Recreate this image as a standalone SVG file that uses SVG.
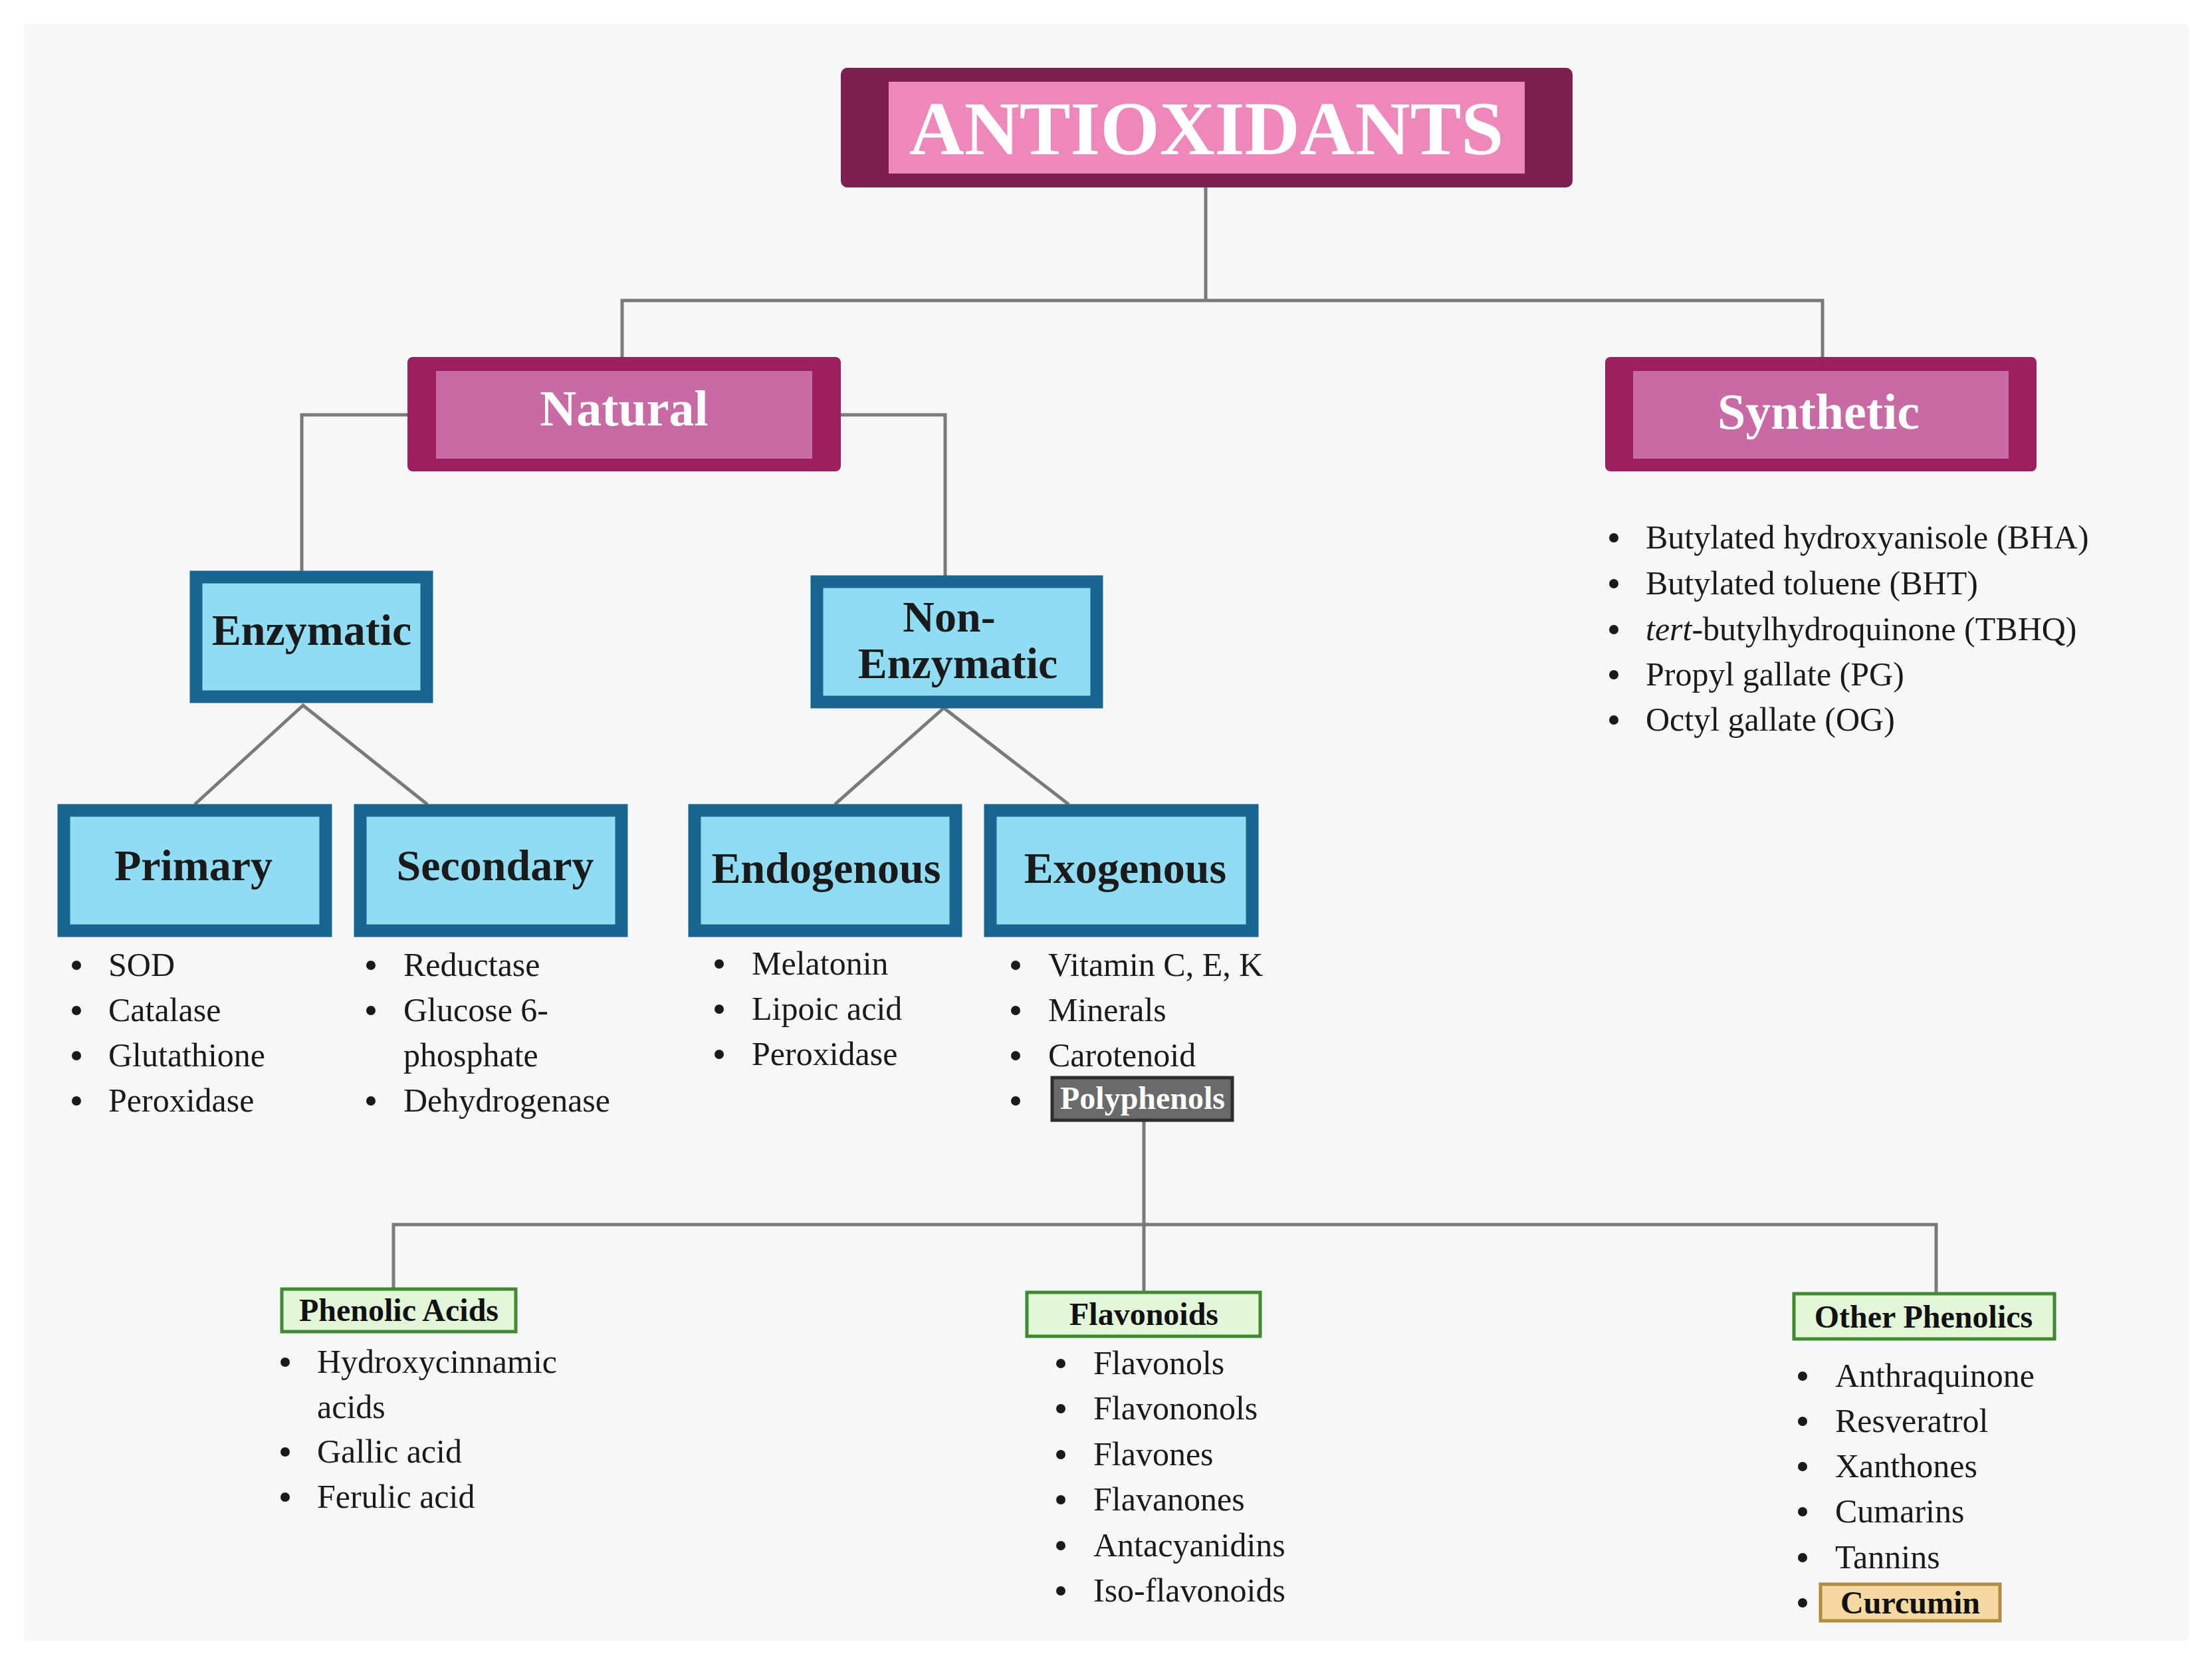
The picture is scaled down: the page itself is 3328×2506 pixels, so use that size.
<svg xmlns="http://www.w3.org/2000/svg" width="3328" height="2506" viewBox="0 0 3328 2506">
<style>
text{font-family:"Liberation Serif","Times New Roman",serif;}
.wt{fill:#fff;font-weight:bold;text-anchor:middle}
.bt{fill:#1a1a1a;font-weight:bold;text-anchor:middle;font-size:66px}
.li{fill:#1a1a1a;font-size:50px}
.gt{fill:#111;font-weight:bold;text-anchor:middle;font-size:48px}
.ln{stroke:#7a7a7a;stroke-width:5;fill:none}
.blue{fill:#8fdcf3;stroke:#18658f;stroke-width:19}
.grn{fill:#e2f6d8;stroke:#3f8a2f;stroke-width:5}
</style>
<rect width="3328" height="2506" fill="#fff"/>
<rect x="36" y="36" width="3257" height="2432" fill="#f5f7f9"/>
<g id="connectors">
<path class="ln" d="M1814 282V452M936 537V452H2742V537"/>
<path class="ln" d="M613 624H454V859M1265 624H1422V866"/>
<path class="ln" d="M293 1210L456 1061L643 1210M1256 1210L1420 1065L1608 1210"/>
<path class="ln" d="M1721 1687V1842M592 1937V1842H2913V1946M1721 1842V1942"/>
</g>
<g id="antioxidants">
<rect x="1265" y="102" width="1101" height="180" rx="10" fill="#7d1f4f"/>
<rect x="1337" y="123" width="957" height="138" fill="#ee88b8"/>
<text class="wt" x="1815" y="232" font-size="115">ANTIOXIDANTS</text>
</g>
<g id="natural">
<rect x="613" y="537" width="652" height="172" rx="8" fill="#9c1f5f"/>
<rect x="656" y="558" width="566" height="132" fill="#c86aa3"/>
<text class="wt" x="939" y="640" font-size="76">Natural</text>
</g>
<g id="synthetic">
<rect x="2415" y="537" width="649" height="172" rx="8" fill="#9c1f5f"/>
<rect x="2457" y="558" width="565" height="132" fill="#c86aa3"/>
<text class="wt" x="2736" y="645" font-size="76">Synthetic</text>
</g>
<g id="synthetic-list" class="li">
<circle cx="2428" cy="809" r="7"/><text x="2476" y="825">Butylated hydroxyanisole (BHA)</text>
<circle cx="2428" cy="878" r="7"/><text x="2476" y="894">Butylated toluene (BHT)</text>
<circle cx="2428" cy="947" r="7"/><text x="2476" y="963"><tspan font-style="italic">tert</tspan>-butylhydroquinone (TBHQ)</text>
<circle cx="2428" cy="1015" r="7"/><text x="2476" y="1031">Propyl gallate (PG)</text>
<circle cx="2428" cy="1083" r="7"/><text x="2476" y="1099">Octyl gallate (OG)</text>
</g>
<g id="enzymatic">
<rect class="blue" x="295" y="868" width="347" height="180"/>
<text class="bt" x="469" y="970">Enzymatic</text>
</g>
<g id="non-enzymatic">
<rect class="blue" x="1229" y="875" width="421" height="181"/>
<text class="bt" x="1428" y="950">Non-</text>
<text class="bt" x="1441" y="1020">Enzymatic</text>
</g>
<g id="primary">
<rect class="blue" x="96" y="1219" width="394" height="181"/>
<text class="bt" x="291" y="1324">Primary</text>
</g>
<g id="secondary">
<rect class="blue" x="542" y="1219" width="393" height="181"/>
<text class="bt" x="745" y="1324">Secondary</text>
</g>
<g id="endogenous">
<rect class="blue" x="1045" y="1219" width="393" height="181"/>
<text class="bt" x="1243" y="1328">Endogenous</text>
</g>
<g id="exogenous">
<rect class="blue" x="1490" y="1219" width="394" height="181"/>
<text class="bt" x="1693" y="1328">Exogenous</text>
</g>
<g id="primary-list" class="li">
<circle cx="115" cy="1452" r="7"/><text x="163" y="1468">SOD</text>
<circle cx="115" cy="1520" r="7"/><text x="163" y="1536">Catalase</text>
<circle cx="115" cy="1588" r="7"/><text x="163" y="1604">Glutathione</text>
<circle cx="115" cy="1656" r="7"/><text x="163" y="1672">Peroxidase</text>
</g>
<g id="secondary-list" class="li">
<circle cx="558" cy="1452" r="7"/><text x="607" y="1468">Reductase</text>
<circle cx="558" cy="1520" r="7"/><text x="607" y="1536">Glucose 6-</text>
<text x="607" y="1604">phosphate</text>
<circle cx="558" cy="1656" r="7"/><text x="607" y="1672">Dehydrogenase</text>
</g>
<g id="endogenous-list" class="li">
<circle cx="1082" cy="1450" r="7"/><text x="1131" y="1466">Melatonin</text>
<circle cx="1082" cy="1518" r="7"/><text x="1131" y="1534">Lipoic acid</text>
<circle cx="1082" cy="1586" r="7"/><text x="1131" y="1602">Peroxidase</text>
</g>
<g id="exogenous-list" class="li">
<circle cx="1528" cy="1452" r="7"/><text x="1577" y="1468">Vitamin C, E, K</text>
<circle cx="1528" cy="1520" r="7"/><text x="1577" y="1536">Minerals</text>
<circle cx="1528" cy="1588" r="7"/><text x="1577" y="1604">Carotenoid</text>
<circle cx="1528" cy="1656" r="7"/>
</g>
<g id="polyphenols">
<rect x="1583" y="1621" width="271" height="64" fill="#6a6a6a" stroke="#2e2e2e" stroke-width="5"/>
<text class="wt" x="1719" y="1668" font-size="48">Polyphenols</text>
</g>
<g id="phenolic-acids">
<rect class="grn" x="424" y="1939" width="352" height="64"/>
<text class="gt" x="600" y="1987">Phenolic Acids</text>
</g>
<g id="flavonoids">
<rect class="grn" x="1545" y="1944" width="351" height="66"/>
<text class="gt" x="1721" y="1993">Flavonoids</text>
</g>
<g id="other-phenolics">
<rect class="grn" x="2699" y="1946" width="392" height="68"/>
<text class="gt" x="2894" y="1997">Other Phenolics</text>
</g>
<g id="phenolic-list" class="li">
<circle cx="429" cy="2049" r="7"/><text x="477" y="2065">Hydroxycinnamic</text>
<text x="477" y="2133">acids</text>
<circle cx="429" cy="2184" r="7"/><text x="477" y="2200">Gallic acid</text>
<circle cx="429" cy="2252" r="7"/><text x="477" y="2268">Ferulic acid</text>
</g>
<g id="flavonoid-list" class="li">
<circle cx="1596" cy="2051" r="7"/><text x="1645" y="2067">Flavonols</text>
<circle cx="1596" cy="2119" r="7"/><text x="1645" y="2135">Flavononols</text>
<circle cx="1596" cy="2188" r="7"/><text x="1645" y="2204">Flavones</text>
<circle cx="1596" cy="2256" r="7"/><text x="1645" y="2272">Flavanones</text>
<circle cx="1596" cy="2325" r="7"/><text x="1645" y="2341">Antacyanidins</text>
<circle cx="1596" cy="2393" r="7"/><text x="1645" y="2409">Iso-flavonoids</text>
</g>
<g id="other-list" class="li">
<circle cx="2712" cy="2070" r="7"/><text x="2761" y="2086">Anthraquinone</text>
<circle cx="2712" cy="2138" r="7"/><text x="2761" y="2154">Resveratrol</text>
<circle cx="2712" cy="2206" r="7"/><text x="2761" y="2222">Xanthones</text>
<circle cx="2712" cy="2274" r="7"/><text x="2761" y="2290">Cumarins</text>
<circle cx="2712" cy="2343" r="7"/><text x="2761" y="2359">Tannins</text>
<circle cx="2712" cy="2411" r="7"/>
</g>
<g id="curcumin">
<rect x="2739" y="2383" width="270" height="55" fill="#f5d9a0" stroke="#b08a40" stroke-width="5"/>
<text class="gt" x="2874" y="2427">Curcumin</text>
</g>
</svg>
